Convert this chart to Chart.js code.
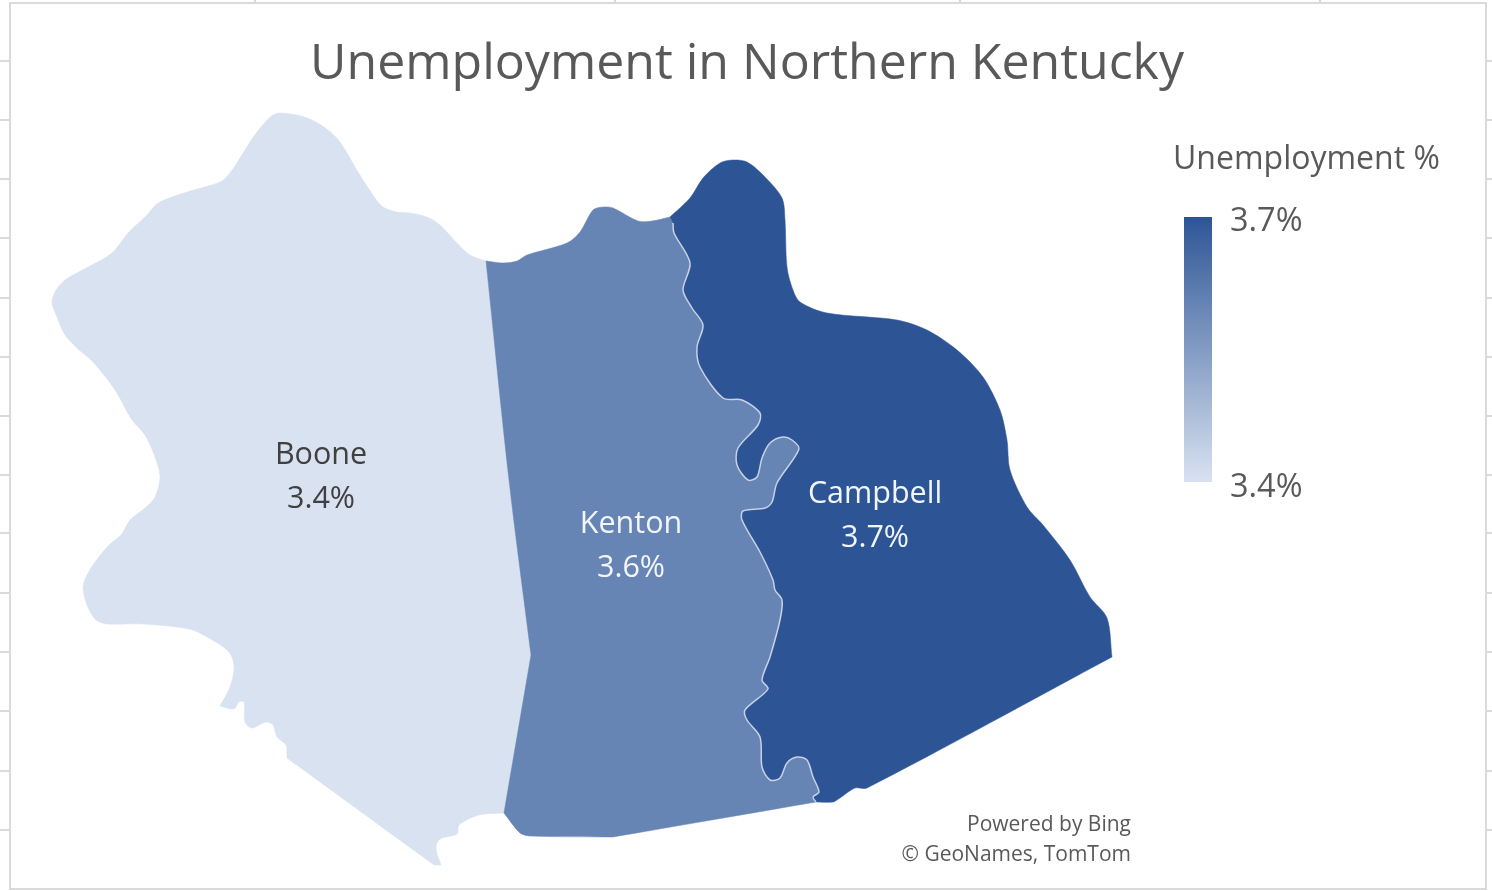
<!DOCTYPE html>
<html>
<head>
<meta charset="utf-8">
<title>Unemployment in Northern Kentucky</title>
<script src="https://cdn.jsdelivr.net/npm/chart.js@4/dist/chart.umd.min.js"></script>
<style>
  html, body { margin: 0; padding: 0; background: #fff; }
  canvas { display: block; }
</style>
</head>
<body>
<canvas id="map" width="1492" height="891"></canvas>
<script>
const countyNames = ['Boone', 'Kenton', 'Campbell'];
const countyRates = [3.4, 3.6, 3.7];
const legendRates = [3.7, 3.4];

// County borders in map units. A repeated point keeps a sharp corner under the spline.
const booneNorth = [
  [486,261],[470,255],[457,243],[440,225],[427,217],[410,213],[397,212],[383,207],[375,198],
  [358,172],[340,142],[328,130],[312,120],[297,115],[275,114],[257,132],[245,150],[230,173],
  [220,182],[187,192],[158,203],[147,215],[128,233],[112,253],[88,267],[65,280],[55,292],
  [52,303],[57,317],[65,335],[77,348],[93,362],[115,390],[132,420],[145,435],[155,457],
  [160,477],[155,497],[145,508],[130,520],[121,535],[109,545],[95,562],[86,577],[83,588],
  [87,605],[96,620],[107,624],[143,624],[189,629],[207,637],[229,652],[234,667],[230,687],
  [220,706],[220,706],[234,709],[239,702],[244,702],[245,722],[252,728],[266,722],[273,725],
  [277,737],[286,745],[287,758],[287,758],[434,865],[434,865],[441,865],[441,865],[436,848],
  [440,839],[457,834],[459,825],[479,815],[504,813],[504,813]
];
const booneKentonEdge = [
  [531,655],[531,655],[509,480],[486,261]
];
const kentonNorth = [
  [486,261],[503,263],[517,261],[527,255],[567,243],[580,232],[593,210],[603,207],[613,208],
  [638,221],[652,221],[670,217],[670,217]
];
const kentonCampbellEdge = [
  [673,223],[674,233],[690,263],[683,290],[692,308],[703,325],[697,347],[700,367],[723,398],
  [742,400],[760,413],[758,425],[738,448],[737,465],[748,480],[757,477],[762,458],[770,443],
  [783,437],[792,440],[799,449],[777,483],[772,502],[765,508],[743,511],[742,520],[760,552],
  [773,580],[775,590],[782,600],[780,620],[770,657],[762,680],[768,689],[745,710],[747,720],
  [760,737],[762,767],[770,780],[780,778],[787,763],[797,757],[807,760],[813,777],[819,792],
  [813,797],[816,802],[816,802]
];
const kentonSouth = [
  [613,837],[613,837],[530,836],[520,833],[504,813],[504,813]
];
const campbellNorth = [
  [670,217],[670,217],[690,198],[703,178],[720,163],[733,160],[747,162],[763,175],[782,198],
  [785,220],[787,267],[793,290],[800,302],[827,313],[897,320],[927,330],[957,350],[983,377],
  [1000,410],[1007,440],[1010,470],[1027,507],[1043,525],[1070,560],[1090,597],[1107,618],
  [1112,657],[1112,657]
];
const campbellSouth = [
  [867,788],[855,788],[840,798],[833,802],[816,802],[816,802]
];

const boone = [...booneNorth, ...booneKentonEdge];
const kenton = [...kentonNorth, ...kentonCampbellEdge, ...kentonSouth, ...booneKentonEdge];
const campbell = [...campbellNorth, ...campbellSouth, ...[...kentonCampbellEdge].reverse(), [670,217]];
const outlines = [boone, kenton, campbell];

// Sequential colour ramp between the lowest and highest rate
const rampLow = [217, 226, 241];
const rampHigh = [45, 85, 150];
const rateColor = rate => {
  const t = (rate - 3.4) / (3.7 - 3.4);
  const mix = rampLow.map((c, i) => Math.round(c + (rampHigh[i] - c) * t));
  return `rgb(${mix[0]}, ${mix[1]}, ${mix[2]})`;
};

const font = '"Open Sans", sans-serif';
const frameColor = '#dadada';

const mapText = {
  id: 'mapText',
  afterDraw(chart) {
    const { ctx, scales: { x, y } } = chart;
    const put = (text, px, py, size, color, align = 'center') => {
      ctx.font = `${size}px ${font}`;
      ctx.fillStyle = color;
      ctx.textAlign = align;
      ctx.textBaseline = 'middle';
      ctx.fillText(text, px, py);
    };

    ctx.save();
    put('Unemployment in Northern Kentucky', 747, 65, 50, '#595959');

    // county name and rate sit over each county
    const labelX = [321, 631, 875];
    const labelY = [455, 524, 494];
    const labelInk = ['#404040', '#f2f5fa', '#f2f5fa'];
    countyNames.forEach((name, i) => {
      const px = x.getPixelForValue(labelX[i]);
      const py = y.getPixelForValue(labelY[i]);
      put(name, px, py, 30.5, labelInk[i]);
      put(countyRates[i].toFixed(1) + '%', px, py + 44, 30.5, labelInk[i]);
    });

    // colour scale legend
    put('Unemployment %', 1173, 160, 32, '#595959', 'left');
    const grad = ctx.createLinearGradient(0, 217, 0, 482);
    grad.addColorStop(0, rateColor(legendRates[0]));
    grad.addColorStop(1, rateColor(legendRates[1]));
    ctx.fillStyle = grad;
    ctx.fillRect(1184, 217, 28, 265);
    put(legendRates[0].toFixed(1) + '%', 1230, 222, 32.5, '#595959', 'left');
    put(legendRates[1].toFixed(1) + '%', 1230, 488, 32.5, '#595959', 'left');

    put('Powered by Bing', 1131, 825, 21, '#595959', 'right');
    put('\u00a9 GeoNames, TomTom', 1131, 855, 21, '#595959', 'right');
    ctx.restore();
  }
};

// Only the sheet's frame and tick stubs are drawn on the axes
const frameAxis = (position, min, max, tickLength, tickValues, extra = {}) => ({
  type: 'linear',
  position,
  min,
  max,
  afterBuildTicks: axis => { axis.ticks = tickValues.map(value => ({ value })); },
  ticks: { display: false },
  border: { color: frameColor, width: 2 },
  grid: { drawOnChartArea: false, color: frameColor, lineWidth: 2, tickLength, drawTicks: tickLength > 0 },
  ...extra
});

const rowLines = [61, 120, 179, 238, 298, 357, 416, 475, 533, 593, 652, 711, 771, 830];
const columnLines = [255, 615, 960, 1320];

const toPoints = outline => outline.map(([x, y]) => ({ x, y }));

new Chart(document.getElementById('map'), {
  type: 'scatter',
  data: {
    datasets: [
      ...outlines.map((outline, i) => ({
        label: countyNames[i],
        data: toPoints(outline),
        showLine: true,
        fill: 'shape',
        tension: 0.3,
        backgroundColor: rateColor(countyRates[i]),
        order: 2 - i,
        borderColor: rateColor(countyRates[i]),
        borderWidth: 0.5,
        pointRadius: 0
      })),
      // pale river line between Kenton and Campbell
      {
        label: 'Licking River',
        data: toPoints(kentonCampbellEdge),
        showLine: true,
        fill: false,
        tension: 0.3,
        order: -1,
        borderColor: 'rgba(222, 229, 241, 0.85)',
        borderWidth: 1.5,
        pointRadius: 0
      }
    ]
  },
  options: {
    responsive: false,
    animation: false,
    layout: { padding: { bottom: 2 } },
    plugins: { legend: { display: false }, title: { display: false }, tooltip: { enabled: false } },
    scales: {
      x: frameAxis('top', 10, 1486, 3, columnLines),
      y: frameAxis('left', 3, 889, 10, rowLines, { reverse: true }),
      yRight: frameAxis('right', 3, 889, 6, rowLines, { reverse: true }),
      xBottom: frameAxis('bottom', 10, 1486, 0, [])
    }
  },
  plugins: [mapText]
});
</script>
</body>
</html>
